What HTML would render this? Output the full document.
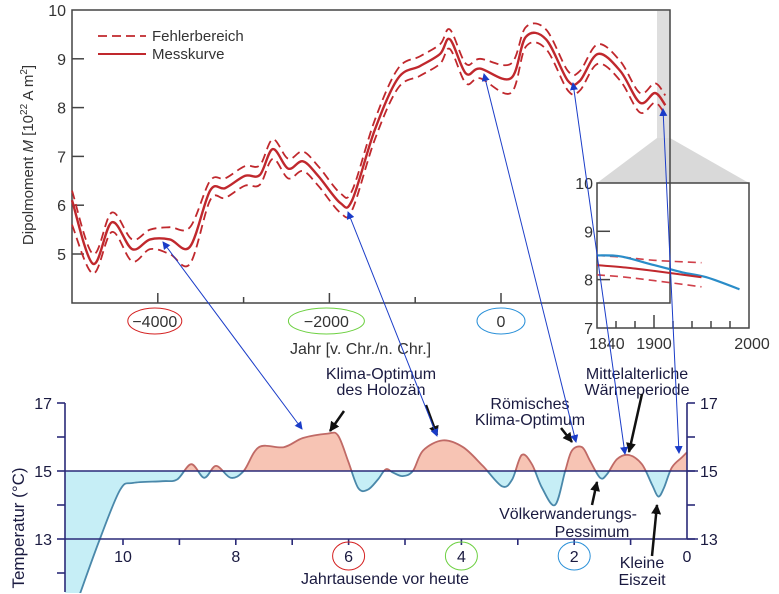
<!DOCTYPE html>
<html><head><meta charset="utf-8"><style>
html,body{margin:0;padding:0;width:779px;height:594px;overflow:hidden;background:#fff}
svg{display:block;font-family:"Liberation Sans",sans-serif;overflow:hidden}
</style></head><body>
<svg id="s" width="779" height="594" viewBox="0 0 779 594">
<defs>
<marker id="ab" markerWidth="8" markerHeight="8" refX="7" refY="4" orient="auto-start-reverse" markerUnits="userSpaceOnUse"><path d="M0,0 L8,4 L0,8 Z" fill="#1a3cc8"/></marker>
<marker id="ak" markerWidth="10" markerHeight="10" refX="9" refY="5" orient="auto" markerUnits="userSpaceOnUse"><path d="M0,0 L10,5 L0,10 Z" fill="#111"/></marker>
<clipPath id="above"><rect x="65" y="380" width="625" height="91"/></clipPath>
<clipPath id="below"><rect x="65" y="471" width="625" height="122"/></clipPath>
</defs>
<rect x="657" y="11" width="13" height="127" fill="#dedede"/>
<polygon points="657,138 670,138 749,183 597,183" fill="#d9d9d9"/>
<rect x="72" y="10" width="598" height="293" fill="none" stroke="#444" stroke-width="1.5"/>
<g id="topAxes" font-size="16" fill="#333"></g>
<g id="topSeries"></g>
<g>
<line x1="98" y1="36" x2="146" y2="36" stroke="#c0282d" stroke-width="1.8" stroke-dasharray="9,5"/>
<text x="152" y="41" font-size="15" fill="#333">Fehlerbereich</text>
<line x1="98" y1="54" x2="146" y2="54" stroke="#c0282d" stroke-width="2"/>
<text x="152" y="59" font-size="15" fill="#333">Messkurve</text>
</g>
<text transform="translate(33,155) rotate(-90)" text-anchor="middle" font-size="15" fill="#333">Dipolmoment <tspan font-style="italic">M</tspan>  [10<tspan dy="-6" font-size="10">22</tspan><tspan dy="6"> A m</tspan><tspan dy="-6" font-size="10">2</tspan><tspan dy="6">]</tspan></text>
<text x="290" y="354" font-size="16" fill="#333">Jahr  [v. Chr./n. Chr.]</text>
<rect x="597" y="183" width="152" height="145" fill="none" stroke="#444" stroke-width="1.5"/>
<g id="inset" font-size="16" fill="#333"></g>
<g id="bottom"></g>
<g font-size="16" fill="#1a1a40" text-anchor="middle">
<text x="381" y="379">Klima-Optimum</text>
<text x="381" y="395">des Holozän</text>
<text x="530" y="409">Römisches</text>
<text x="530" y="425">Klima-Optimum</text>
<text x="637" y="379">Mittelalterliche</text>
<text x="637" y="395">Wärmeperiode</text>
<text x="568" y="519">Völkerwanderungs-</text>
<text x="592" y="537">Pessimum</text>
<text x="642" y="568">Kleine</text>
<text x="642" y="585">Eiszeit</text>
<text x="385" y="584">Jahrtausende vor heute</text>
<text transform="translate(24,528) rotate(-90)" font-size="17">Temperatur (°C)</text>
</g>
<g stroke="#111" stroke-width="2.5" fill="none">
<line x1="344" y1="411" x2="330" y2="431" marker-end="url(#ak)"/>
<line x1="426" y1="405" x2="437" y2="435" marker-end="url(#ak)"/>
<line x1="561" y1="428" x2="572" y2="442" marker-end="url(#ak)"/>
<line x1="642" y1="394" x2="629" y2="452" marker-end="url(#ak)"/>
<line x1="592" y1="505" x2="597" y2="482" marker-end="url(#ak)"/>
<line x1="652" y1="556" x2="657" y2="505" marker-end="url(#ak)"/>
</g>
<g stroke="#1a3cc8" stroke-width="1" fill="none">
<line x1="163" y1="242" x2="302" y2="429" marker-start="url(#ab)" marker-end="url(#ab)"/>
<line x1="348" y1="212" x2="437" y2="436" marker-start="url(#ab)" marker-end="url(#ab)"/>
<line x1="484" y1="74" x2="576" y2="442" marker-start="url(#ab)" marker-end="url(#ab)"/>
<line x1="573" y1="83" x2="625" y2="454" marker-start="url(#ab)" marker-end="url(#ab)"/>
<line x1="663" y1="109" x2="679" y2="453" marker-start="url(#ab)" marker-end="url(#ab)"/>
</g>
</svg>
<script>
const magYears=[-5000,-4755,-4535,-4300,-4090,-3860,-3625,-3390,-3215,-2985,-2810,-2660,-2480,-2310,-2130,-1875,-1735,-1470,-1200,-945,-710,-595,-410,-245,115,290,525,780,920,1130,1390,1620,1795,1915];
const magValues=[6.1,4.8,5.65,5.1,5.3,5.3,5.15,6.3,6.35,6.6,6.62,7.15,6.75,6.9,6.6,6.05,6.1,7.55,8.6,8.85,9.1,9.4,8.7,8.8,8.6,9.45,9.4,8.55,8.55,9.1,8.75,8.1,8.3,8.05];
const magUpper=[6.3,5.0,5.85,5.3,5.5,5.55,5.55,6.5,6.55,6.8,6.82,7.35,6.95,7.1,6.8,6.25,6.3,7.75,8.8,9.05,9.3,9.6,8.9,9.0,8.9,9.65,9.6,8.75,8.75,9.3,8.95,8.3,8.5,8.25];
const magLower=[5.6,4.6,5.45,4.85,5.1,5.0,4.8,6.1,6.15,6.4,6.42,6.95,6.55,6.7,6.4,5.85,5.9,7.35,8.4,8.65,8.9,9.2,8.5,8.6,8.3,9.25,9.2,8.35,8.35,8.9,8.55,7.9,8.1,7.85];
const magYTicks=[10,9,8,7,6,5];
const magXTicks=[-4000,-3000,-2000,-1000,0];
const magXLabels=["-4000","-2000","0"];
const insetYears=[1840,1870,1900,1950];
const insetValues=[8.3,8.25,8.18,8.05];
const insetUpper=[8.5,8.46,8.4,8.35];
const insetLower=[8.1,8.05,7.98,7.85];
const insetBlueYears=[1840,1865,1900,1930,1955,1990];
const insetBlueValues=[8.5,8.48,8.3,8.15,8.05,7.8];
const insetYTicks=[10,9,8,7];
const insetXTicks=[1860,1880,1900,1920,1940,1960,1980];
const tempKy=[10.76,10.41,10.05,9.82,9.3,9.04,8.79,8.56,8.35,8.09,7.86,7.59,7.15,6.81,6.37,6.19,6.01,5.83,5.66,5.48,5.34,5.21,5.04,4.86,4.68,4.33,3.97,3.62,3.28,3.10,2.93,2.75,2.57,2.34,2.16,2.04,1.86,1.72,1.54,1.42,1.24,1.03,0.80,0.62,0.51,0.41,0.27,0.09,0];
const tempValues=[11.4,13.0,14.45,14.65,14.7,14.75,15.2,14.8,15.15,14.8,15.0,15.7,15.7,15.97,16.1,16.05,15.3,14.5,14.45,14.75,15.05,14.95,14.85,15.0,15.6,15.9,15.7,15.15,14.55,14.75,15.47,15.2,14.5,14.0,15.0,15.6,15.7,15.3,14.8,14.9,15.35,15.47,15.2,14.6,14.25,14.5,15.1,15.4,15.55];
const tempYTicks=[17,16,15,14,13,12];
const tempXLabels=[10,8,6,4,2,0];

const NS="http://www.w3.org/2000/svg";
function mk(tag,attrs,parent,txt){const e=document.createElementNS(NS,tag);for(const k in attrs)e.setAttribute(k,attrs[k]);if(txt!==undefined)e.textContent=txt;parent.appendChild(e);return e;}
function smooth(pts){let d="M"+pts[0][0].toFixed(1)+","+pts[0][1].toFixed(1);for(let i=0;i<pts.length-1;i++){const p0=pts[i-1]||pts[i],p1=pts[i],p2=pts[i+1],p3=pts[i+2]||p2;const c1=[p1[0]+(p2[0]-p0[0])/6,p1[1]+(p2[1]-p0[1])/6],c2=[p2[0]-(p3[0]-p1[0])/6,p2[1]-(p3[1]-p1[1])/6];d+=" C"+c1[0].toFixed(1)+","+c1[1].toFixed(1)+" "+c2[0].toFixed(1)+","+c2[1].toFixed(1)+" "+p2[0].toFixed(1)+","+p2[1].toFixed(1);}return d;}

const mx=y=>72+(y+5000)*0.0858, my=v=>10+(10-v)*48.8;
const ta=document.getElementById('topAxes'), ts=document.getElementById('topSeries');
magYTicks.forEach(v=>{
 const t=mk('text',{x:66,y:my(v)+6,'text-anchor':'end'},ta,String(v));
 
 
 if(v<10){const l=mk('line',{x1:72,x2:84,y1:my(v),y2:my(v),stroke:'#444','stroke-width':1.5},ta);
 
 }
});
magXTicks.forEach(y=>{
 const l=mk('line',{x1:mx(y),x2:mx(y),y1:303,y2:y%2000===0?293:297,stroke:'#444','stroke-width':1.5},ta);
 
 
});
const ellCol={"-4000":"#d42020","-2000":"#6cd040","0":"#2a90d8"};
magXLabels.forEach(s=>{
 const x=mx(Number(s))-(s==="0"?0:3);
 const e=mk('ellipse',{cx:x,cy:321,rx:s==="0"?24:(s==="-4000"?27:38),ry:13,fill:'none',stroke:ellCol[s],'stroke-width':1},ta);
 
 
 const t=mk('text',{x:x,y:327,'text-anchor':'middle'},ta,s.replace('-','\u2212'));
 
 
});
const up=mk('path',{d:smooth(magYears.map((y,i)=>[mx(y),my(magUpper[i])])),fill:'none',stroke:'#c0282d','stroke-width':1.8,'stroke-dasharray':'9,5'},ts);


const lo=mk('path',{d:smooth(magYears.map((y,i)=>[mx(y),my(magLower[i])])),fill:'none',stroke:'#c0282d','stroke-width':1.8,'stroke-dasharray':'9,5'},ts);


const ml=mk('path',{d:smooth(magYears.map((y,i)=>[mx(y),my(magValues[i])])),fill:'none',stroke:'#c0282d','stroke-width':2.4},ts);



const ix=y=>597+(y-1840)*0.95, iy=v=>183+(10-v)*48.3;
const ig=document.getElementById('inset');
insetYTicks.forEach(v=>{
 const t=mk('text',{x:593,y:iy(v)+6,'text-anchor':'end'},ig,String(v));
 
 
 if(v===9||v===8){const l=mk('line',{x1:597,x2:610,y1:iy(v),y2:iy(v),stroke:'#444','stroke-width':1.5},ig);
 
 }
});
insetXTicks.forEach(y=>{
 const l=mk('line',{x1:ix(y),x2:ix(y),y1:328,y2:y===1900?315:321,stroke:'#444','stroke-width':1.5},ig);
 
 
});
[[1840,'start',589],[1900,'middle',ix(1900)],[2000,'middle',752]].forEach(a=>{
 const t=mk('text',{x:a[2],y:349,'text-anchor':a[1]},ig,String(a[0]));
 
 
});
[insetUpper,insetLower].forEach((arr,k)=>{
 const p=mk('path',{d:smooth(insetYears.map((y,i)=>[ix(y),iy(arr[i])])),fill:'none',stroke:'#d0404a','stroke-width':1.6,'stroke-dasharray':'8,5'},ig);
 
 
});
const ib=mk('path',{d:smooth(insetBlueYears.map((y,i)=>[ix(y),iy(insetBlueValues[i])])),fill:'none',stroke:'#2a8cc8','stroke-width':2.2},ig);


const ir=mk('path',{d:smooth(insetYears.map((y,i)=>[ix(y),iy(insetValues[i])])),fill:'none',stroke:'#c0282d','stroke-width':2},ig);



const bx=k=>687-k*56.4, by=t=>471-(t-15)*34;
const bg=document.getElementById('bottom');
const curve=smooth(tempKy.map((k,i)=>[bx(k),by(tempValues[i])]));
const area="M65,471 L65,593 L"+curve.slice(1)+" L"+bx(0)+","+by(15)+" Z";
const clipAll=mk('g',{},bg);
const fa=mk('path',{d:area,fill:'#f7c4b4','clip-path':'url(#above)'},clipAll);


const fb=mk('path',{d:area,fill:'#c6eef6','clip-path':'url(#below)'},clipAll);


const la=mk('path',{d:curve,fill:'none',stroke:'#c06a66','stroke-width':1.8,'clip-path':'url(#above)'},clipAll);


const lb=mk('path',{d:curve,fill:'none',stroke:'#4a88aa','stroke-width':1.8,'clip-path':'url(#below)'},clipAll);


const ax=mk('g',{stroke:'#2a2a78','stroke-width':1.6},bg);
[[65,403,65,592,'left-axis'],[687,403,687,539,'right-axis'],[65,471,698,471,'baseline-15'],[65,539,698,539,'baseline-13']].forEach(a=>{
 const l=mk('line',{x1:a[0],y1:a[1],x2:a[2],y2:a[3]},ax);
 
 
});
tempYTicks.forEach(t=>{
 const l=mk('line',{x1:57,x2:65,y1:by(t),y2:by(t)},ax);
 
 
 if(t>=13){const r=mk('line',{x1:687,x2:695,y1:by(t),y2:by(t)},ax);
 
 }
 if(t%2===1){
  const a=mk('text',{x:52,y:by(t)+6,'text-anchor':'end','font-size':16,fill:'#1a1a40',stroke:'none'},bg,String(t));
  
  
  const b=mk('text',{x:700,y:by(t)+6,'font-size':16,fill:'#1a1a40',stroke:'none'},bg,String(t));
  
  
 }
});
for(let k=1;k<=10;k++){
 const l=mk('line',{x1:bx(k),x2:bx(k),y1:539,y2:545},ax);
 
 
}
const circ={6:'#d42020',4:'#6cd040',2:'#2a90d8'};
tempXLabels.forEach(k=>{
 if(circ[k]){const c=mk('ellipse',{cx:bx(k),cy:556,rx:16,ry:14,fill:'none',stroke:circ[k],'stroke-width':1},bg);
 
 }
 const t=mk('text',{x:bx(k),y:562,'text-anchor':'middle','font-size':16,fill:'#1a1a40'},bg,String(k));
 
 
});
</script>
</body></html>
